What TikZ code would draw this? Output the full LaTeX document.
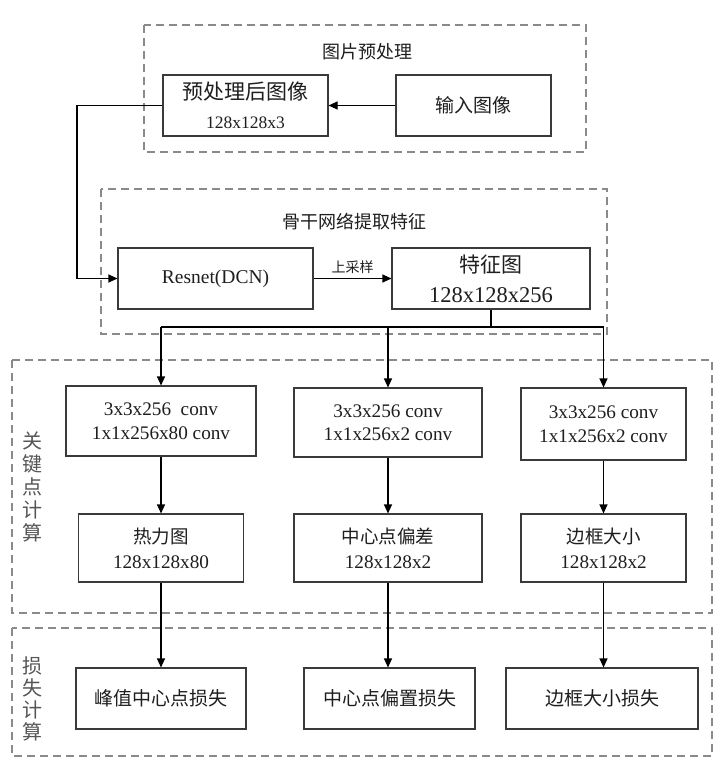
\documentclass[tikz,border=0pt]{standalone}
\usepackage{fontspec}
\setmainfont{Liberation Serif}
\newfontfamily\cjk{Noto Sans CJK SC}
\usetikzlibrary{arrows.meta}
\newcommand\zh[1]{{\cjk #1}}
\definecolor{boxline}{HTML}{3A3A3A}
\definecolor{dashline}{HTML}{8A8A8A}
\definecolor{txt}{HTML}{1E1E1E}
\begin{document}
\begin{tikzpicture}[x=1pt,y=-1pt,
  box/.style={draw=boxline,line width=1.1pt,inner sep=0pt,align=center,text=txt},
  group/.style={draw=dashline,line width=1.4pt,dash pattern=on 8pt off 5pt},
  arr/.style={draw=black,line width=1.1pt,-{Triangle[length=9pt,width=8pt]}},
  ln/.style={draw=black,line width=1.1pt},
  zhs/.style={font=\cjk\fontsize{18}{23}\selectfont,text=txt},
]
\useasboundingbox (0,0) rectangle (720,773);
\fill[white] (0,0) rectangle (720,773);

% dashed groups
\draw[group] (144,25) rectangle (586,152);
\draw[group] (101,189) rectangle (607,334);
\draw[group] (12,360) rectangle (712,613);
\draw[group] (12,628) rectangle (712,756);

% group titles
\node[zhs] (t1) at (367,52) {图片预处理};
\node[zhs] (t2) at (354,222) {骨干网络提取特征};
\node[font=\cjk\fontsize{20}{23}\selectfont,text=txt!75,align=center] (t3) at (32,487) {关\\键\\点\\计\\算};
\node[font=\cjk\fontsize{20}{22}\selectfont,text=txt!75,align=center] (t4) at (32,699) {损\\失\\计\\算};

% preprocessing
\node[box,minimum width=165pt,minimum height=61pt,font=\fontsize{17.5}{29}\selectfont] (pre) at (245.5,105.5)
  {{\cjk\fontsize{21}{29}\selectfont 预处理后图像}\\128x128x3};
\node[box,minimum width=155pt,minimum height=61pt,font=\cjk\fontsize{19}{23}\selectfont] (inp) at (473.5,105.5) {输入图像};

% backbone
\node[box,minimum width=195pt,minimum height=61pt,font=\fontsize{19.5}{23}\selectfont] (res) at (215.5,278.5) {Resnet(DCN)};
\node[box,minimum width=198pt,minimum height=61pt,font=\fontsize{22.5}{30}\selectfont] (feat) at (491,278.5)
  {{\cjk\fontsize{21}{30}\selectfont 特征图}\\128x128x256};

% conv boxes
\node[box,minimum width=190pt,minimum height=70pt,font=\fontsize{19.2}{23.5}\selectfont] (c1) at (161,421) {3x3x256\ \ conv\\1x1x256x80 conv};
\node[box,minimum width=188pt,minimum height=69pt,font=\fontsize{19.2}{23.5}\selectfont] (c2) at (388,422.5) {3x3x256 conv\\1x1x256x2 conv};
\node[box,minimum width=165pt,minimum height=72pt,font=\fontsize{19.2}{23.5}\selectfont] (c3) at (603.5,424) {3x3x256 conv\\1x1x256x2 conv};

% result boxes
\node[box,minimum width=165pt,minimum height=68pt,font=\fontsize{19.2}{25}\selectfont] (r1) at (161,548) {{\cjk\fontsize{18.5}{25}\selectfont 热力图}\\128x128x80};
\node[box,minimum width=188pt,minimum height=68pt,font=\fontsize{19.2}{25}\selectfont] (r2) at (388,548) {{\cjk\fontsize{18.5}{25}\selectfont 中心点偏差}\\128x128x2};
\node[box,minimum width=165pt,minimum height=68pt,font=\fontsize{19.2}{25}\selectfont] (r3) at (603.5,548) {{\cjk\fontsize{18.5}{25}\selectfont 边框大小}\\128x128x2};

% loss boxes
\node[box,minimum width=170pt,minimum height=61pt,font=\cjk\fontsize{19}{23}\selectfont] (l1) at (161,698.5) {峰值中心点损失};
\node[box,minimum width=171pt,minimum height=61pt,font=\cjk\fontsize{19}{23}\selectfont] (l2) at (389.5,698.5) {中心点偏置损失};
\node[box,minimum width=192pt,minimum height=61pt,font=\cjk\fontsize{19}{23}\selectfont] (l3) at (602,698.5) {边框大小损失};

% connectors
\draw[arr] (inp.west) -- (pre.east);
\coordinate (k1) at (77,105.5);
\coordinate (k2) at (77,278.5);
\draw[arr] (pre.west) -- (k1) -- (k2) -- (res.west);
\draw[arr] (res.east) -- node[above=1pt,font=\cjk\fontsize{14}{16}\selectfont,text=txt] (up) {上采样} (feat.west);

\coordinate (br) at (491,327);
\coordinate (bl) at (161,327);
\coordinate (brr) at (603.5,327);
\draw[ln] (feat.south) -- (br);
\draw[ln] (bl) -- (brr);
\draw[arr] (bl) -- (c1.north);
\draw[arr] (br -| c2.north) -- (c2.north);
\draw[arr] (brr) -- (c3.north);

\draw[arr] (c1.south) -- (r1.north);
\draw[arr] (c2.south) -- (r2.north);
\draw[arr] (c3.south) -- (r3.north);

\draw[arr] (r1.south) -- (r1.south |- l1.north);
\draw[arr] (r2.south) -- (r2.south |- l2.north);
\draw[arr] (r3.south) -- (r3.south |- l3.north);
\end{tikzpicture}
\end{document}
